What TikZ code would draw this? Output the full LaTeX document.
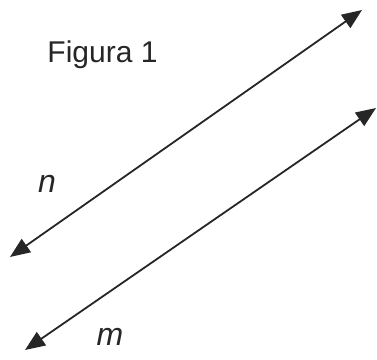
\documentclass[tikz,border=0pt]{standalone}
\usepackage{fontspec}
\setmainfont{Liberation Sans}
\usetikzlibrary{arrows.meta}
\begin{document}
\begin{tikzpicture}[x=1pt,y=1pt,
  dline/.style={line width=1.8pt,color=black!85,{Triangle[length=20pt,width=16pt]}-{Triangle[length=20pt,width=16pt]}},
  lbl/.style={font=\fontsize{32}{32}\selectfont\itshape,anchor=base,text=black!85,inner sep=0pt}]
\useasboundingbox[fill=white] (0,0) rectangle (377,359);
\coordinate (n1) at (10,102);
\coordinate (n2) at (362,349);
\coordinate (m1) at (25,9);
\coordinate (m2) at (376,251);
\draw[dline] (n1) -- (n2);
\draw[dline] (m1) -- (m2);
\node[anchor=base,inner sep=0pt,text=black!85,font=\fontsize{30}{30}\selectfont] (fig) at (102.5,296) {Figura 1};
\node[lbl] (nl) at (47,166) {n};
\node[lbl] (ml) at (110,14) {m};
\end{tikzpicture}
\end{document}
